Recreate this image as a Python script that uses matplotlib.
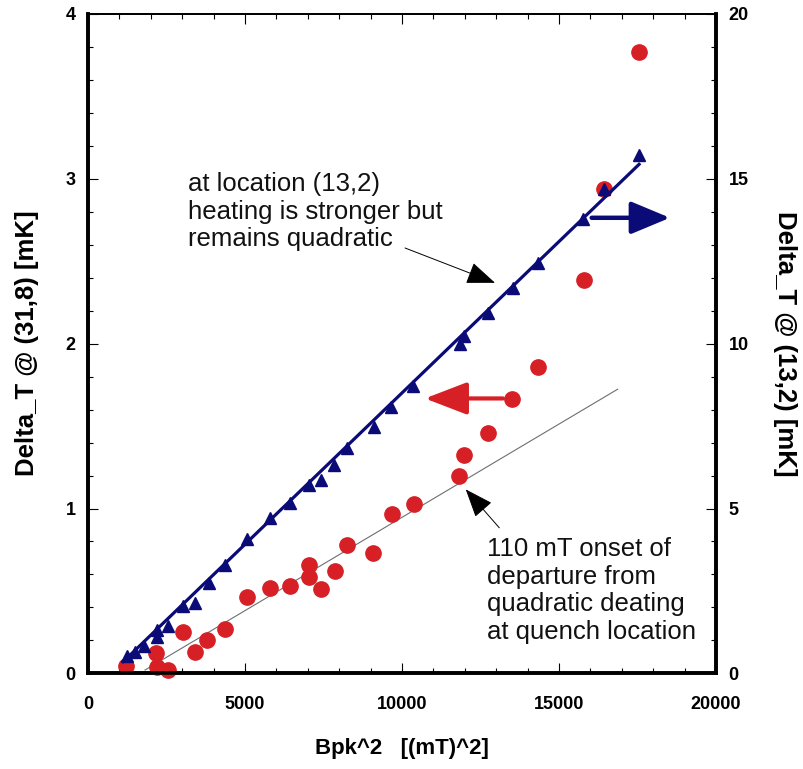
import matplotlib
matplotlib.use('Agg')
import matplotlib.pyplot as plt
from matplotlib.ticker import MultipleLocator

# Delta_T at (31,8), left axis [mK]
red_x = [1213, 2171, 2203, 2554, 3033, 3416, 3800, 4374, 5077, 5811, 6418,
         7047, 7047, 7407, 7854, 8238, 9090, 9697, 10367, 11804, 11983,
         12749, 13515, 14326, 15783, 16433, 17551]
red_y = [0.045, 0.124, 0.041, 0.024, 0.252, 0.133, 0.203, 0.268, 0.464, 0.519,
         0.531, 0.659, 0.584, 0.513, 0.624, 0.776, 0.730, 0.968, 1.029, 1.199,
         1.322, 1.458, 1.664, 1.856, 2.382, 2.935, 3.768]

# Delta_T at (13,2), right axis [mK]
blue_x = [1229, 1507, 1778, 2187, 2193, 2532, 3024, 3416, 3841, 4374, 5067,
          5811, 6424, 7034, 7407, 7832, 8238, 9100, 9642, 10351, 11845, 11967,
          12739, 13528, 14326, 15763, 16433, 17551]
blue_y = [0.52, 0.64, 0.84, 1.12, 1.32, 1.43, 2.06, 2.13, 2.74, 3.29, 4.07,
          4.72, 5.17, 5.70, 5.85, 6.33, 6.82, 7.46, 8.08, 8.72, 9.98, 10.22,
          10.93, 11.69, 12.45, 13.78, 14.67, 15.70]

# fitted lines
blue_fit_x = [1124, 17551]
blue_fit_y = [0.36, 15.43]
gray_fit_x = [1815, 16869]
gray_fit_y = [0.021, 1.723]

RED = '#d71f26'
BLUE = '#0b0b78'

plt.rcParams['font.family'] = ['Liberation Sans', 'DejaVu Sans']

fig = plt.figure(figsize=(8.04, 7.69), dpi=100)
ax = fig.add_axes([0.1095, 0.1242, 0.781, 0.8582])
ax2 = ax.twinx()

ax.plot(gray_fit_x, gray_fit_y, color='#6e6e6e', lw=0.8, zorder=2)
ax.plot(red_x, red_y, 'o', color=RED, ms=11, mec=RED, clip_on=False, zorder=3)

ax2.plot(blue_fit_x, blue_fit_y, color=BLUE, lw=2.3, zorder=2)
ax2.plot(blue_x, blue_y, '^', color=BLUE, ms=8.5, clip_on=False, zorder=3)

ax.set_xlim(0, 20000)
ax.set_ylim(0, 4)
ax2.set_ylim(0, 20)

ax.xaxis.set_major_locator(MultipleLocator(5000))
ax.xaxis.set_minor_locator(MultipleLocator(1000))
ax.yaxis.set_major_locator(MultipleLocator(1))
ax.yaxis.set_minor_locator(MultipleLocator(0.2))
ax2.yaxis.set_major_locator(MultipleLocator(5))
ax2.yaxis.set_minor_locator(MultipleLocator(1))

ax.tick_params(axis='x', which='both', direction='in', top=True, pad=16,
               labelsize=13, width=0.8)
ax.tick_params(axis='y', which='both', direction='in', right=False, pad=9,
               labelsize=13, width=0.8)
ax2.tick_params(axis='y', which='both', direction='in', pad=9,
                labelsize=13, width=0.8)
for a in (ax, ax2):
    a.tick_params(which='major', length=7)
    a.tick_params(which='minor', length=3.6)
    for lab in a.get_xticklabels() + a.get_yticklabels():
        lab.set_fontweight('bold')
    for side in ('left', 'right', 'bottom'):
        a.spines[side].set_linewidth(2.6)
    a.spines['top'].set_linewidth(1.3)

ax.set_xlabel('Bpk^2   [(mT)^2]', fontsize=16, fontweight='bold', labelpad=18)
ax.set_ylabel('Delta_T @ (31,8) [mK]', fontsize=18.5, fontweight='bold', labelpad=19)
ax2.set_ylabel('Delta_T @ (13,2) [mK]', fontsize=18.5, fontweight='bold',
               rotation=270, labelpad=35)

# direction arrows
ax.annotate('', xy=(10732, 1.667), xytext=(13217, 1.667),
            arrowprops=dict(arrowstyle='-|>,head_length=1.3,head_width=0.5',
                            color=RED, lw=3, shrinkA=0, shrinkB=0,
                            mutation_scale=20))
ax2.annotate('', xy=(18535, 13.81), xytext=(16041, 13.81),
             arrowprops=dict(arrowstyle='-|>,head_length=1.2,head_width=0.5',
                             color=BLUE, lw=3.2, shrinkA=0, shrinkB=0,
                             mutation_scale=20))

# annotations
ax.text(3185, 3.04, 'at location (13,2)\nheating is stronger but\nremains quadratic',
        fontsize=18.5, va='top', ha='left', linespacing=1.19, color='#111111')
ax.annotate('', xy=(12962, 2.368), xytext=(10096, 2.579),
            arrowprops=dict(arrowstyle='-|>,head_length=0.9,head_width=0.35',
                            color='#555555', fc='black', ec='black', lw=0.7,
                            shrinkA=0, shrinkB=0, mutation_scale=20))
ax.text(12707, 0.827, '110 mT onset of\ndeparture from\nquadratic deating\nat quench location',
        fontsize=18.5, va='top', ha='left', linespacing=1.19, color='#111111')
ax.annotate('', xy=(12029, 1.116), xytext=(13099, 0.883),
            arrowprops=dict(arrowstyle='-|>,head_length=0.9,head_width=0.35',
                            color='#555555', fc='black', ec='black', lw=0.7,
                            shrinkA=0, shrinkB=0, mutation_scale=20))

fig.savefig('out.png', dpi=100)
